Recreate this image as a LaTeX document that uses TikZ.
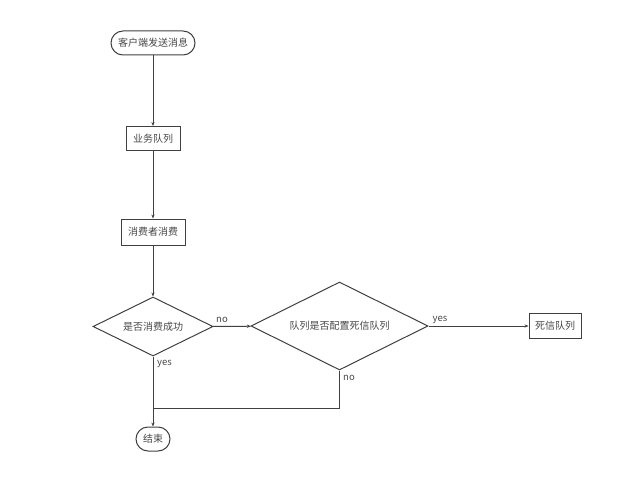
\documentclass[tikz,border=0pt]{standalone}
\usepackage{fontspec}
\newfontfamily\cjk{Noto Sans CJK SC}
\usetikzlibrary{shapes.geometric,arrows.meta}

\begin{document}
\begin{tikzpicture}[
  x=1pt, y=1pt,
  font=\cjk\fontsize{10}{12}\selectfont,
  every node/.style={text=black!72},
  term/.style={draw=black!75, rounded corners=12pt, line width=1pt,
               minimum height=24pt, inner xsep=6pt},
  proc/.style={draw=black!75, line width=1pt, minimum height=24pt, inner xsep=5pt},
  ask/.style={draw=black!75, diamond, aspect=2, line width=1pt, inner sep=0pt},
  edge/.style={line width=1pt, black!75, -{Stealth[length=4pt,width=3.2pt]}},
  line/.style={line width=1pt, black!75},
  lbl/.style={font=\cjk\fontsize{9.5}{11}\selectfont, inner sep=1pt},
]
  \useasboundingbox (0,0) rectangle (640,-484);

  % main column
  \node[term, minimum width=84pt] (send) at (153,-43) {客户端发送消息};
  \node[proc, minimum width=54pt] (biz) at (153,-138.5) {业务队列};
  \node[proc, minimum width=64pt, minimum height=26pt] (cons) at (153,-232) {消费者消费};
  \node[ask, minimum width=120pt, minimum height=59pt] (ok) at (153,-326.5) {是否消费成功};
  \node[term, minimum width=34pt] (stop) at (153,-439) {结束};

  % dead letter branch
  \node[ask, minimum width=177pt, minimum height=88pt] (dlx) at (339.5,-326) {队列是否配置死信队列};
  \node[proc, minimum width=52pt, minimum height=25pt] (dlq) at (555,-326) {死信队列};
  \coordinate (join) at (153,-408);

  \draw[edge] (send) -- (biz);
  \draw[edge] (biz) -- (cons);
  \draw[edge] (cons) -- (ok);
  \draw[edge] (ok) -- (stop);
  \draw[edge] (ok) -- (dlx);
  \draw[edge] (dlx) -- (dlq);
  \draw[line] (dlx.south) |- (join);

  \node[lbl] at (222,-320) {no};
  \node[lbl] at (164.5,-364) {yes};
  \node[lbl] at (440,-320) {yes};
  \node[lbl] at (349,-378) {no};
\end{tikzpicture}
\end{document}
